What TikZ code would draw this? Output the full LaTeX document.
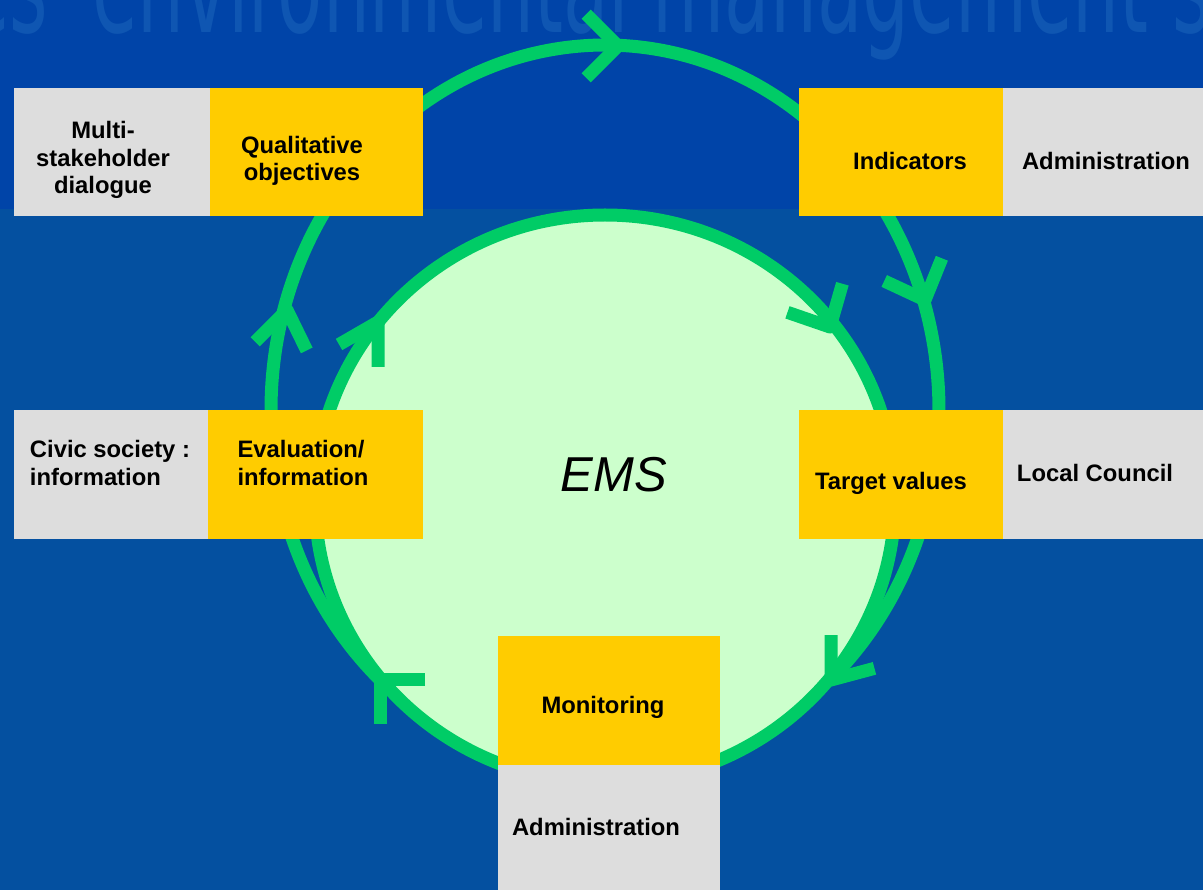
\documentclass[tikz,border=0pt]{standalone}
\usepackage{graphicx}
\usepackage{fontspec}
\setmainfont{Liberation Sans}
\newfontfamily\headfont{DejaVu Sans}
\usetikzlibrary{positioning}
\definecolor{slidetop}{HTML}{0044A8}
\definecolor{slideblue}{HTML}{0450A0}
\definecolor{headblue}{HTML}{0F56B2}
\definecolor{ringgreen}{HTML}{00CC66}
\definecolor{mint}{HTML}{CCFFCC}
\definecolor{gold}{HTML}{FFCC00}
\definecolor{panelgray}{HTML}{DDDDDD}

\begin{document}
\begin{tikzpicture}[
  x=1pt, y=-1pt,
  ring/.style={draw=ringgreen, line width=13pt},
  barb/.style={draw=ringgreen, line width=13pt, line join=round},
  box/.style={anchor=north west, inner sep=0pt, outer sep=0pt},
  goldbox/.style={box, fill=gold},
  graybox/.style={box, fill=panelgray},
  lbl/.style={font=\fontsize{23.8}{27.5}\selectfont\bfseries, inner sep=0pt}
]
  % slide background
  \useasboundingbox (0,0) rectangle (1203,890);
  \fill[slideblue] (0,0) rectangle (1203,890);
  \fill[slidetop] (0,0) rectangle (1203,209);
  \begin{scope}
    \clip (0,0) rectangle (1203,209);
    \node[anchor=base west, inner sep=0pt, text=headblue,
          font=\headfont\fontsize{74}{78}\selectfont] (heading) at (-36,33)
      {\scalebox{1}[1.8]{es' environmental management sy}};
  \end{scope}

  % the cycle: inner disc and outer loop
  \draw[ring, fill=mint] (605,499) ellipse [x radius=290, y radius=284];
  \draw[ring] (605,410) ++(132.3:334 and 365)
    arc[start angle=132.3, end angle=407.7, x radius=334, y radius=365];
  % arrow heads: tip x / tip y / barb directions
  \foreach \x/\y/\p/\q in {618/46/135/225, 925/300/205/292, 287/310/135/64,
                           378/322/150/90, 830/327/199/286,
                           831/680/270/345, 380/679/0/90}
    \draw[barb] (\x,\y) ++(\p:45) -- (\x,\y) -- ++(\q:45);

  % boxes
  \node[graybox, minimum width=196, minimum height=128] (dialogbox) at (14,88) {};
  \node[goldbox, minimum width=213, minimum height=128, right=0pt of dialogbox] (qualbox) {};
  \node[goldbox, minimum width=204, minimum height=128] (indbox) at (799,88) {};
  \node[graybox, minimum width=200, minimum height=128, right=0pt of indbox] (admtopbox) {};
  \node[graybox, minimum width=194, minimum height=129] (civicbox) at (14,410) {};
  \node[goldbox, minimum width=215, minimum height=129, right=0pt of civicbox] (evalbox) {};
  \node[goldbox, minimum width=204, minimum height=129] (targetbox) at (799,410) {};
  \node[graybox, minimum width=200, minimum height=129, right=0pt of targetbox] (councilbox) {};
  \node[goldbox, minimum width=222, minimum height=129] (monbox) at (498,636) {};
  \node[graybox, minimum width=222, minimum height=125, below=0pt of monbox] (admbotbox) {};

  % labels
  \node[lbl, align=center] (dialogue) at (103,160) {Multi-\\stakeholder\\dialogue};
  \node[lbl, align=center] (qualitative) at (302,161) {Qualitative\\objectives};
  \node[lbl] (indicators) at (910,161) {Indicators};
  \node[lbl] (admtop) at (1106,161) {Administration};
  \node[lbl, align=left] (civic) at (110,463) {Civic society :\\information};
  \node[lbl, align=left] (evaluation) at (303,463) {Evaluation/\\information};
  \node[lbl] (target) at (891,483) {Target values};
  \node[lbl] (council) at (1095,473) {Local Council};
  \node[lbl] (monitoring) at (603,707) {Monitoring};
  \node[lbl] (admbot) at (596,827) {Administration};
  \node[font=\fontsize{49}{59}\selectfont\itshape, inner sep=0pt] (ems) at (614,475) {EMS};
\end{tikzpicture}
\end{document}
